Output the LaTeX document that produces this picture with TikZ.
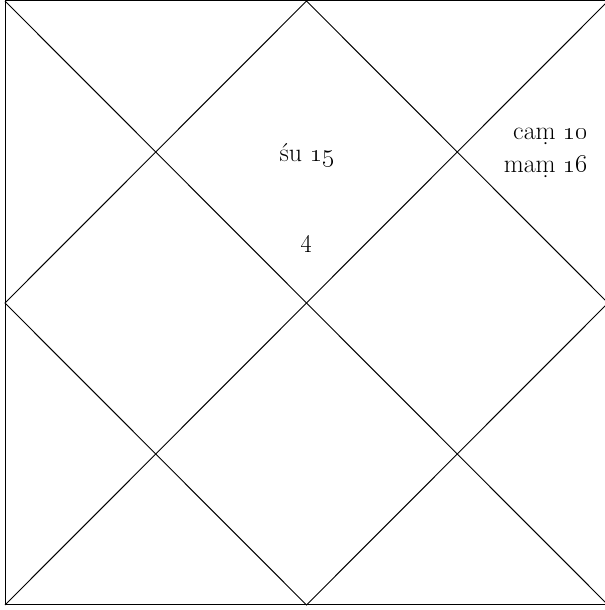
\RequirePackage{fix-cm}
\documentclass[tikz,border=0pt]{standalone}
\begin{document}
\begin{tikzpicture}[x=1bp,y=1bp,
  chartline/.style={line width=1bp, black},
  lbl/.style={font=\fontsize{26}{30}\selectfont, inner sep=0pt}]
\useasboundingbox (0,0) rectangle (605,610);
\coordinate (tl) at (5,609);
\coordinate (tr) at (608,609);
\coordinate (br) at (608,5);
\coordinate (bl) at (5,5);
\coordinate (tm) at (306.5,609);
\coordinate (rm) at (608,307);
\coordinate (bm) at (306.5,5);
\coordinate (lm) at (5,307);
\draw[chartline] (tl) rectangle (br);
\draw[chartline] (tl) -- (br);
\draw[chartline] (tr) -- (bl);
\draw[chartline] (tm) -- (rm) -- (bm) -- (lm) -- cycle;
\node[lbl] (su) at (307,455) {\'su \oldstylenums{15}};
\node[lbl] (four) at (307,366) {\oldstylenums{4}};
\node[lbl, anchor=base east] (cam) at (588,470) {ca\d{m} \oldstylenums{10}};
\node[lbl, anchor=base east] (mam) at (588,437) {ma\d{m} \oldstylenums{16}};
\end{tikzpicture}
\end{document}
